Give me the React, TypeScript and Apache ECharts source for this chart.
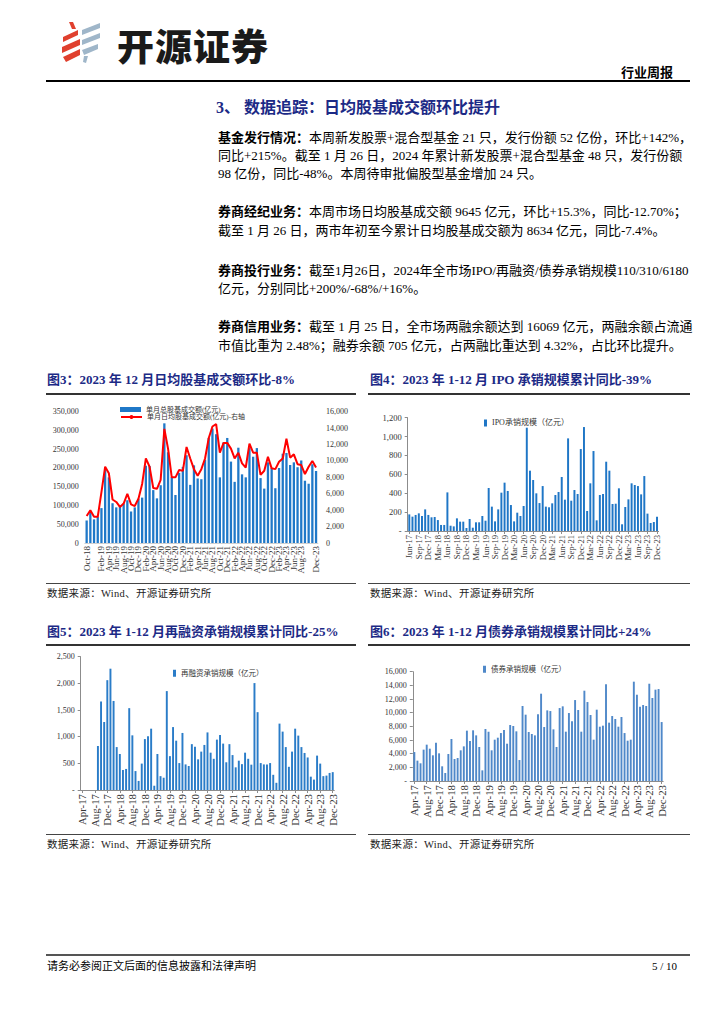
import React, { useEffect, useRef } from "react";
import * as echarts from "echarts";

const FONT = "'Times New Roman','Liberation Serif','Noto Sans CJK SC',serif";
const NAVY = "#1c2a86";

// ---------- Chart 3 data ----------
const months3 = [
  "Oct-18", "Nov-18", "Dec-18",
  "Jan-19", "Feb-19", "Mar-19", "Apr-19", "May-19", "Jun-19", "Jul-19", "Aug-19", "Sep-19", "Oct-19", "Nov-19", "Dec-19",
  "Jan-20", "Feb-20", "Mar-20", "Apr-20", "May-20", "Jun-20", "Jul-20", "Aug-20", "Sep-20", "Oct-20", "Nov-20", "Dec-20",
  "Jan-21", "Feb-21", "Mar-21", "Apr-21", "May-21", "Jun-21", "Jul-21", "Aug-21", "Sep-21", "Oct-21", "Nov-21", "Dec-21",
  "Jan-22", "Feb-22", "Mar-22", "Apr-22", "May-22", "Jun-22", "Jul-22", "Aug-22", "Sep-22", "Oct-22", "Nov-22", "Dec-22",
  "Jan-23", "Feb-23", "Mar-23", "Apr-23", "May-23", "Jun-23", "Jul-23", "Aug-23", "Sep-23", "Oct-23", "Nov-23", "Dec-23",
];
const monthlyTurnover = [
  60000, 84000, 63000, 70000, 93000, 196000, 175000, 106000, 95000, 101000,
  105000, 114000, 84000, 95000, 118000, 121000, 206000, 205000, 141000, 119000,
  154000, 319000, 242000, 176000, 128000, 187000, 203000, 234000, 155000, 207000,
  172000, 170000, 222000, 280000, 305000, 290000, 175000, 268000, 280000, 217000,
  163000, 254000, 183000, 175000, 253000, 230000, 253000, 173000, 145000, 215000,
  200000, 146000, 200000, 238000, 240000, 208000, 215000, 202000, 220000, 166000,
  158000, 210000, 192000,
];
const dailyTurnover = [
  3300, 4000, 3200, 3200, 6200, 9300, 8500, 5300, 5000, 4400,
  4800, 6000, 4700, 4500, 5400, 7200, 10300, 9300, 6700, 6600,
  7700, 13900, 11500, 8000, 8000, 8900, 8800, 11700, 10300, 9000,
  8200, 9000, 10300, 12800, 14200, 14500, 11000, 12200, 12200, 11500,
  10300, 11000, 9700, 9200, 12100, 11000, 11000, 8300, 8800, 10500,
  9100, 9000, 9900, 10300, 12700, 10400, 10800, 9600, 9500, 8400,
  9300, 10000, 9200,
];

// ---------- Chart 4 data ----------
const months4 = [
  "Jun-17", "Jul-17", "Aug-17", "Sep-17", "Oct-17", "Nov-17", "Dec-17",
  "Jan-18", "Feb-18", "Mar-18", "Apr-18", "May-18", "Jun-18", "Jul-18", "Aug-18", "Sep-18", "Oct-18", "Nov-18", "Dec-18",
  "Jan-19", "Feb-19", "Mar-19", "Apr-19", "May-19", "Jun-19", "Jul-19", "Aug-19", "Sep-19", "Oct-19", "Nov-19", "Dec-19",
  "Jan-20", "Feb-20", "Mar-20", "Apr-20", "May-20", "Jun-20", "Jul-20", "Aug-20", "Sep-20", "Oct-20", "Nov-20", "Dec-20",
  "Jan-21", "Feb-21", "Mar-21", "Apr-21", "May-21", "Jun-21", "Jul-21", "Aug-21", "Sep-21", "Oct-21", "Nov-21", "Dec-21",
  "Jan-22", "Feb-22", "Mar-22", "Apr-22", "May-22", "Jun-22", "Jul-22", "Aug-22", "Sep-22", "Oct-22", "Nov-22", "Dec-22",
  "Jan-23", "Feb-23", "Mar-23", "Apr-23", "May-23", "Jun-23", "Jul-23", "Aug-23", "Sep-23", "Oct-23", "Nov-23", "Dec-23",
];
const ipoValues = [
  176, 152, 170, 187, 159, 229, 170, 145, 148, 116,
  64, 64, 409, 56, 49, 134, 99, 99, 32, 127,
  35, 92, 92, 159, 109, 455, 258, 102, 229, 406,
  512, 424, 275, 102, 194, 159, 265, 1094, 639, 540,
  399, 296, 476, 258, 251, 293, 381, 413, 572, 332,
  981, 321, 434, 392, 868, 1101, 212, 505, 847, 113,
  381, 392, 734, 639, 286, 289, 452, 71, 254, 335,
  505, 487, 476, 388, 582, 184, 85, 95, 152,
];

// ---------- Chart 5 & 6 data ----------
const months56 = [
  "Apr-17", "May-17", "Jun-17", "Jul-17", "Aug-17", "Sep-17", "Oct-17", "Nov-17", "Dec-17",
  "Jan-18", "Feb-18", "Mar-18", "Apr-18", "May-18", "Jun-18", "Jul-18", "Aug-18", "Sep-18", "Oct-18", "Nov-18", "Dec-18",
  "Jan-19", "Feb-19", "Mar-19", "Apr-19", "May-19", "Jun-19", "Jul-19", "Aug-19", "Sep-19", "Oct-19", "Nov-19", "Dec-19",
  "Jan-20", "Feb-20", "Mar-20", "Apr-20", "May-20", "Jun-20", "Jul-20", "Aug-20", "Sep-20", "Oct-20", "Nov-20", "Dec-20",
  "Jan-21", "Feb-21", "Mar-21", "Apr-21", "May-21", "Jun-21", "Jul-21", "Aug-21", "Sep-21", "Oct-21", "Nov-21", "Dec-21",
  "Jan-22", "Feb-22", "Mar-22", "Apr-22", "May-22", "Jun-22", "Jul-22", "Aug-22", "Sep-22", "Oct-22", "Nov-22", "Dec-22",
  "Jan-23", "Feb-23", "Mar-23", "Apr-23", "May-23", "Jun-23", "Jul-23", "Aug-23", "Sep-23", "Oct-23", "Nov-23", "Dec-23",
];
const refinanceValues = [
  0, 0, 0, 0, 0,
  825, 1660, 1275, 2060, 2275, 1670, 805, 675, 375, 395,
  1535, 1025, 355, 170, 495, 955, 1010, 1150, 80, 675,
  260, 230, 1855, 635, 1180, 925, 505, 1070, 480, 450,
  860, 810, 575, 720, 845, 1080, 700, 585, 945, 1030,
  870, 520, 860, 655, 425, 550, 485, 700, 585, 475,
  2005, 1460, 505, 480, 480, 505, 285, 135, 1245, 1095,
  805, 435, 720, 1150, 1020, 805, 695, 610, 250, 195,
  645, 495, 260, 270, 320, 335,
];
const bondValues = [
  4240, 2980, 2590, 4590, 5320, 4730, 3760, 5610, 4050, 2150,
  1170, 3950, 6150, 3220, 3370, 4490, 5070, 7370, 5850, 7420,
  6680, 4980, 1560, 7610, 7220, 4490, 6050, 6340, 7020, 7460,
  5460, 8200, 8050, 7270, 3070, 10980, 9710, 7170, 6880, 6680,
  9760, 12780, 7900, 10340, 10240, 7560, 4980, 10680, 10930, 7220,
  9950, 8730, 11850, 10390, 7220, 13220, 11560, 9660, 6050, 10440,
  7950, 8100, 14150, 8540, 9510, 9070, 7950, 9370, 7020, 5900,
  6050, 14540, 12630, 10880, 11120, 10980, 14240, 12150, 13370, 13460,
  8630,
];

const fmt = (dash: boolean) => (v: number) =>
  v === 0 ? (dash ? "-" : "0") : v.toLocaleString("en-US");

const every = (n: number) => (i: number) => i % n === 0;

const axisText = { color: "#333", fontFamily: FONT };

function option3() {
  return {
    animation: false,
    grid: { left: 44.8, right: 42.1, top: 16.7, bottom: 37 },
    legend: [
      {
        data: [{ name: "单月总股基成交额(亿元)", icon: "rect" }],
        left: 80, top: 11, padding: 0, itemWidth: 21, itemHeight: 5, itemGap: 3,
        textStyle: { fontSize: 7, color: "#333", fontFamily: FONT },
      },
      {
        data: [{ name: "单月日均股基成交额(亿元)-右轴" }],
        left: 80, top: 18.5, padding: 0, itemWidth: 21, itemHeight: 5, itemGap: 3,
        textStyle: { fontSize: 7, color: "#333", fontFamily: FONT },
      },
    ],
    xAxis: {
      type: "category", data: months3,
      axisLine: { show: true, lineStyle: { color: "#d0d0d0" } },
      axisTick: { show: false },
      axisLabel: {
        ...axisText, rotate: 90, interval: every(2), showMinLabel: true, showMaxLabel: true,
        hideOverlap: false, fontSize: 9, margin: 3,
      },
    },
    yAxis: [
      {
        type: "value", min: 0, max: 350000, interval: 50000,
        splitLine: { show: false }, axisLine: { show: false }, axisTick: { show: false },
        axisLabel: { ...axisText, fontSize: 8, margin: 6, formatter: fmt(false) },
      },
      {
        type: "value", min: 0, max: 16000, interval: 2000,
        splitLine: { show: false }, axisLine: { show: false }, axisTick: { show: false },
        axisLabel: { ...axisText, fontSize: 8, margin: 8, formatter: fmt(false) },
      },
    ],
    series: [
      {
        name: "单月总股基成交额(亿元)", type: "bar", data: monthlyTurnover,
        barWidth: "62%", itemStyle: { color: "#1f78c8" },
      },
      {
        name: "单月日均股基成交额(亿元)-右轴", type: "line", yAxisIndex: 1, data: dailyTurnover,
        symbol: "none", lineStyle: { color: "#ff0000", width: 2 }, itemStyle: { color: "#ff0000" },
      },
    ],
  };
}

function barOption(cfg: {
  cats: string[]; values: number[]; name: string; color: string; grid: any; max: number; interval: number;
  labelEvery: number; xFont: number; yFont: number; legendLeft: number; legendTop: number; legendFont: number;
}) {
  return {
    animation: false,
    grid: cfg.grid,
    legend: {
      data: [{ name: cfg.name, icon: "rect" }],
      left: cfg.legendLeft, top: cfg.legendTop, padding: 0, itemWidth: 3, itemHeight: 7, itemGap: 4,
      textStyle: { fontSize: cfg.legendFont, color: "#333", fontFamily: FONT },
    },
    xAxis: {
      type: "category", data: cfg.cats,
      axisLine: { show: true, lineStyle: { color: "#8c8c8c" } },
      axisTick: { show: true, interval: every(cfg.labelEvery), alignWithLabel: true, length: 3, lineStyle: { color: "#8c8c8c" } },
      axisLabel: {
        ...axisText, rotate: 90, interval: every(cfg.labelEvery), showMinLabel: true, showMaxLabel: true,
        fontSize: cfg.xFont, margin: 4,
      },
    },
    yAxis: {
      type: "value", min: 0, max: cfg.max, interval: cfg.interval,
      splitLine: { show: false },
      axisLine: { show: true, lineStyle: { color: "#8c8c8c" } },
      axisTick: { show: true, length: 3, lineStyle: { color: "#8c8c8c" } },
      axisLabel: { ...axisText, fontSize: cfg.yFont, margin: 6, formatter: fmt(true) },
    },
    series: [
      { name: cfg.name, type: "bar", data: cfg.values, barWidth: "62%", itemStyle: { color: cfg.color } },
    ],
  };
}

function Chart({ option, style }: { option: any; style: React.CSSProperties }) {
  const ref = useRef<HTMLDivElement>(null);
  useEffect(() => {
    const chart = echarts.init(ref.current!, null, { renderer: "svg" });
    chart.setOption(option);
    return () => chart.dispose();
  }, []);
  return <div ref={ref} style={{ position: "absolute", ...style }} />;
}

const bodyLines = [
  { y: 137.7, b: "基金发行情况：", t: "本周新发股票+混合型基金 21 只，发行份额 52 亿份，环比+142%，", j: true },
  { y: 156, b: "", t: "同比+215%。截至 1 月 26 日，2024 年累计新发股票+混合型基金 48 只，发行份额", j: true },
  { y: 174.3, b: "", t: "98 亿份，同比-48%。本周待审批偏股型基金增加 24 只。", j: false },
  { y: 212.3, b: "券商经纪业务：", t: "本周市场日均股基成交额 9645 亿元，环比+15.3%，同比-12.70%；", j: true },
  { y: 230.7, b: "", t: "截至 1 月 26 日，两市年初至今累计日均股基成交额为 8634 亿元，同比-7.4%。", j: false },
  { y: 270.7, b: "券商投行业务：", t: "截至1月26日，2024年全市场IPO/再融资/债券承销规模110/310/6180", j: true },
  { y: 289, b: "", t: "亿元，分别同比+200%/-68%/+16%。", j: false },
  { y: 327.3, b: "券商信用业务：", t: "截至 1 月 25 日，全市场两融余额达到 16069 亿元，两融余额占流通", j: true },
  { y: 345.7, b: "", t: "市值比重为 2.48%；融券余额 705 亿元，占两融比重达到 4.32%，占比环比提升。", j: false },
];

const abs = (s: React.CSSProperties): React.CSSProperties => ({ position: "absolute", ...s });

function HLine({ x1, x2, y, w = 1, c = "#000" }: { x1: number; x2: number; y: number; w?: number; c?: string }) {
  return <div style={abs({ left: x1, top: y - w / 2, width: x2 - x1, height: w, background: c })} />;
}

function Title({ x, y, text }: { x: number; y: number; text: string }) {
  return (
    <div style={abs({ left: x, top: y - 9, height: 18, lineHeight: "18px", fontSize: 13, fontWeight: 700, color: NAVY, whiteSpace: "nowrap" })}>
      {text}
    </div>
  );
}

function Source({ x, y }: { x: number; y: number }) {
  return (
    <div style={abs({ left: x, top: y - 7, height: 14, lineHeight: "14px", fontSize: 10.5, color: "#222", whiteSpace: "nowrap", letterSpacing: 0.3 })}>
      数据来源：Wind、开源证券研究所
    </div>
  );
}

export default function App() {
  const opt4 = barOption({
    cats: months4, values: ipoValues, name: "IPO承销规模（亿元）", color: "#1f76c6",
    grid: { left: 47.7, right: 31.4, top: 22.7, bottom: 49 }, max: 1200, interval: 200,
    labelEvery: 3, xFont: 8.6, yFont: 8.5, legendLeft: 124, legendTop: 24, legendFont: 8,
  });
  const opt5 = barOption({
    cats: months56, values: refinanceValues, name: "再融资承销规模（亿元）", color: "#2a7cc8",
    grid: { left: 40.7, right: 25.7, top: 8.7, bottom: 43 }, max: 2500, interval: 500,
    labelEvery: 4, xFont: 10.8, yFont: 8, legendLeft: 133, legendTop: 21.5, legendFont: 7.5,
  });
  const opt6 = barOption({
    cats: months56, values: bondValues, name: "债券承销规模（亿元）", color: "#4f88c9",
    grid: { left: 52.8, right: 26.8, top: 23.7, bottom: 52 }, max: 16000, interval: 2000,
    labelEvery: 4, xFont: 10.8, yFont: 8, legendLeft: 123, legendTop: 17.5, legendFont: 7.5,
  });

  return (
    <div style={abs({ left: 0, top: 0, width: 724, height: 1024, background: "#fff", fontFamily: FONT, color: "#000", overflow: "hidden" })}>
      {/* Logo */}
      <svg style={abs({ left: 0, top: 0 })} width={120} height={70}>
        <g fill="#e0402e">
          <polygon points="69,22 73,22 76,29 72,29" />
          <polygon points="63,37 78,30 78,35 63,42" />
          <polygon points="62,47 80,39 80,45 62,53" />
          <polygon points="63,57 80,49 80,55 66,62" />
        </g>
        <g fill="#9fb6c9">
          <polygon points="82,30 100,23 100,28 82,35" />
          <polygon points="82,40 100,33 100,38 82,45" />
          <polygon points="82,50 98,44 98,49 84,55" />
          <polygon points="84,56 88,56 86,63 83,62" />
        </g>
      </svg>
      <div style={abs({ left: 117, top: 22, height: 46, lineHeight: "46px", fontSize: 37, fontWeight: 900, color: "#1a1a1a", fontFamily: "'Noto Sans CJK SC',sans-serif", letterSpacing: 1, whiteSpace: "nowrap" })}>
        开源证券
      </div>
      <div style={abs({ right: 724 - 673, top: 65, height: 16, lineHeight: "16px", fontSize: 13, fontWeight: 700, whiteSpace: "nowrap" })}>
        行业周报
      </div>
      <HLine x1={46} x2={690} y={81} w={1.5} />

      {/* Section title */}
      <div style={abs({ left: 216, top: 98, height: 20, lineHeight: "20px", fontSize: 16, fontWeight: 700, color: NAVY, whiteSpace: "nowrap" })}>
        3、 数据追踪：日均股基成交额环比提升
      </div>

      {/* Body text */}
      {bodyLines.map((l, i) => (
        <div
          key={i}
          style={abs({
            left: 218, top: l.y - 9, width: 462, height: 18, lineHeight: "18px", fontSize: 13,
            textAlign: l.j ? "justify" : "left", textAlignLast: l.j ? "justify" : "left", whiteSpace: "nowrap",
          } as React.CSSProperties)}
        >
          {l.b ? <span style={{ fontWeight: 700 }}>{l.b}</span> : null}
          {l.t}
        </div>
      ))}

      {/* Chart 3 & 4 headers */}
      <Title x={47} y={380} text="图3：2023 年 12 月日均股基成交额环比-8%" />
      <Title x={370} y={380} text="图4：2023 年 1-12 月 IPO 承销规模累计同比-39%" />
      <HLine x1={46} x2={356} y={394} w={1.5} c="#333" />
      <HLine x1={368} x2={690} y={394} w={1.5} c="#333" />

      <Chart option={option3()} style={{ left: 40, top: 395, width: 320, height: 185 }} />
      <Chart option={opt4} style={{ left: 360, top: 395, width: 330, height: 185 }} />

      <HLine x1={46} x2={356} y={583} w={1} c="#444" />
      <HLine x1={368} x2={690} y={583} w={1} c="#444" />
      <Source x={47} y={594} />
      <Source x={370} y={594} />

      {/* Chart 5 & 6 headers */}
      <Title x={47} y={632} text="图5：2023 年 1-12 月再融资承销规模累计同比-25%" />
      <Title x={370} y={632} text="图6：2023 年 1-12 月债券承销规模累计同比+24%" />
      <HLine x1={46} x2={356} y={645} w={1.5} c="#333" />
      <HLine x1={368} x2={690} y={645} w={1.5} c="#333" />

      <Chart option={opt5} style={{ left: 40, top: 648, width: 320, height: 185 }} />
      <Chart option={opt6} style={{ left: 360, top: 648, width: 330, height: 185 }} />

      <HLine x1={46} x2={356} y={834} w={1} c="#444" />
      <HLine x1={368} x2={690} y={834} w={1} c="#444" />
      <Source x={47} y={845} />
      <Source x={370} y={845} />

      {/* Footer */}
      <HLine x1={46} x2={690} y={955} w={1.5} c="#555" />
      <div style={abs({ left: 47, top: 959, height: 14, lineHeight: "14px", fontSize: 11, whiteSpace: "nowrap" })}>
        请务必参阅正文后面的信息披露和法律声明
      </div>
      <div style={abs({ right: 724 - 677, top: 959, height: 14, lineHeight: "14px", fontSize: 11, whiteSpace: "nowrap" })}>
        5 / 10
      </div>
    </div>
  );
}
